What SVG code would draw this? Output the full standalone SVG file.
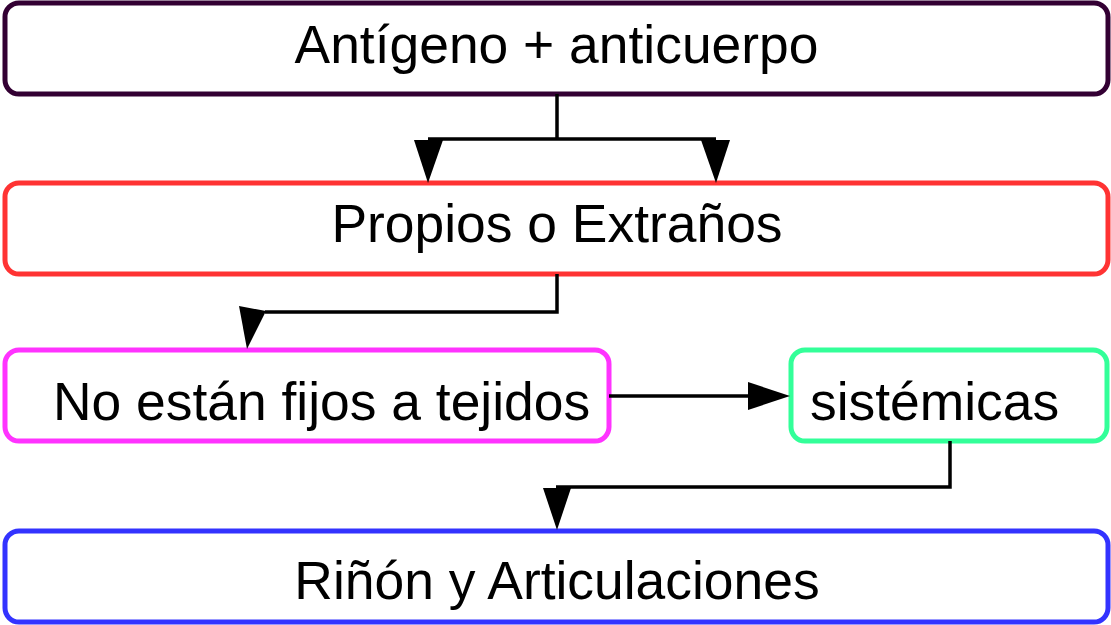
<svg xmlns="http://www.w3.org/2000/svg" width="1111" height="625" viewBox="0 0 1111 625">
<style>
.box{fill:#ffffff;stroke-width:5}
.lbl{font-family:"Liberation Sans",Arial,sans-serif;font-size:53.4px;fill:#000000}
.c{text-anchor:middle}
.ln{fill:none;stroke:#000000;stroke-width:3.5}
.ah{fill:#000000;stroke:none}
</style>
<rect width="1111" height="625" fill="#ffffff"/>
<g id="n1">
<rect class="box" x="5" y="3" width="1103" height="91" rx="14" stroke="#330033"/>
<text class="lbl c" x="556.5" y="63">Antígeno + anticuerpo</text>
</g>
<g id="n2">
<rect class="box" x="5" y="183" width="1103" height="91" rx="14" stroke="#ff3333"/>
<text class="lbl c" x="557" y="242">Propios o Extraños</text>
</g>
<g id="n3">
<rect class="box" x="5" y="350" width="604" height="91" rx="14" stroke="#ff33ff"/>
<text class="lbl" x="53" y="420">No están fijos a tejidos</text>
</g>
<g id="n4">
<rect class="box" x="791" y="350" width="316" height="91" rx="14" stroke="#33ff99"/>
<text class="lbl" x="810" y="420">sistémicas</text>
</g>
<g id="n5">
<rect class="box" x="5" y="531" width="1103" height="91" rx="14" stroke="#3333ff"/>
<text class="lbl c" x="557" y="599">Riñón y Articulaciones</text>
</g>
<g id="connectors">
<path class="ln" d="M557,94 V139 M428,139 H716"/>
<polygon class="ah" points="414,140 443,140 428,183"/>
<polygon class="ah" points="701,140 730,140 716,183"/>
<path class="ln" d="M557,274 V312 H265"/>
<polygon class="ah" points="239,306 266,311 247,349"/>
<path class="ln" d="M609,396 H750"/>
<polygon class="ah" points="748,382 790,396 748,410"/>
<path class="ln" d="M950,441 V487 H556"/>
<polygon class="ah" points="543,488 571,488 557,530"/>
</g>
</svg>
